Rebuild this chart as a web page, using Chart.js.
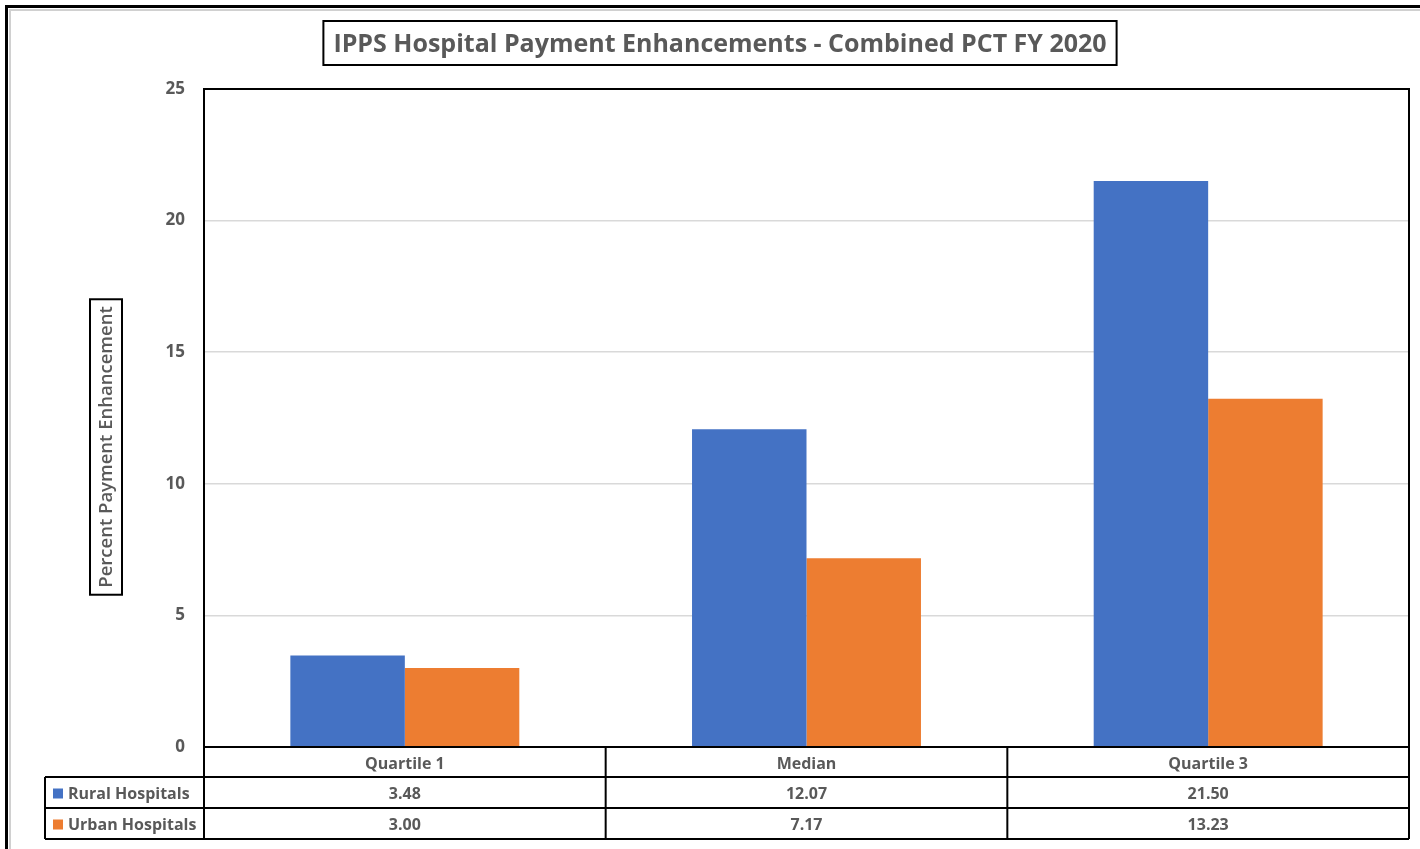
<!DOCTYPE html>
<html>
<head>
<meta charset="utf-8">
<script src="https://cdn.jsdelivr.net/npm/chart.js@4/dist/chart.umd.min.js"></script>
<style>
  html, body { margin: 0; padding: 0; background: #fff; }
  #wrap { width: 1420px; height: 849px; }
</style>
</head>
<body>
<div id="wrap"><canvas id="chart" width="1420" height="849"></canvas></div>
<script>
const categories = ['Quartile 1', 'Median', 'Quartile 3']
const seriesNames = ['Rural Hospitals', 'Urban Hospitals']
const rural = [3.48, 12.07, 21.50]
const urban = [3.00, 7.17, 13.23]
const yTicks = [0, 5, 10, 15, 20, 25]

const TITLE = 'IPPS Hospital Payment Enhancements - Combined PCT FY 2020'
const Y_TITLE = 'Percent Payment Enhancement'
const COLORS = ['#4472C4', '#ED7D31']
const TEXT = '#595959'
const FONT = '"Open Sans", Lato, sans-serif'

// frame, title box, axis-title box and the data table under the plot
const decor = {
  id: 'decor',
  afterDraw(chart) {
    const { ctx, chartArea: a, scales: { x } } = chart
    const rowH = 31
    const r0 = a.bottom, r1 = r0 + 30, r2 = r1 + rowH, r3 = r2 + rowH
    const tableLeft = 45
    ctx.save()

    // outer frame with a light inner edge
    ctx.strokeStyle = '#d0d0d0'; ctx.lineWidth = 2
    ctx.beginPath(); ctx.moveTo(10, 849); ctx.lineTo(10, 10); ctx.lineTo(1420, 10); ctx.stroke()
    ctx.strokeStyle = '#000'; ctx.lineWidth = 3
    ctx.beginPath(); ctx.moveTo(6.5, 849); ctx.lineTo(6.5, 6.5); ctx.lineTo(1420, 6.5); ctx.stroke()

    // title
    ctx.font = 'bold 25px ' + FONT
    ctx.fillStyle = TEXT; ctx.textAlign = 'center'; ctx.textBaseline = 'middle'
    const tw = ctx.measureText(TITLE).width
    const tcx = 720
    ctx.fillText(TITLE, tcx, 45)
    ctx.strokeStyle = '#000'; ctx.lineWidth = 2
    ctx.strokeRect(tcx - tw / 2 - 10, 21, tw + 20, 44)

    // y axis title
    ctx.save()
    ctx.translate(106, 447)
    ctx.rotate(-Math.PI / 2)
    ctx.font = '600 18.5px ' + FONT
    ctx.fillStyle = TEXT
    ctx.fillText(Y_TITLE, 0, 1)
    const yw = ctx.measureText(Y_TITLE).width
    ctx.strokeRect(-yw / 2 - 7, -16, yw + 14, 32)
    ctx.restore()

    // plot border
    ctx.strokeStyle = '#000'; ctx.lineWidth = 2
    ctx.strokeRect(a.left, a.top, a.right - a.left, a.bottom - a.top)

    // table grid
    const half = (x.getPixelForValue(1) - x.getPixelForValue(0)) / 2
    const edges = [a.left].concat(categories.map((c, i) => x.getPixelForValue(i) + half))
    ctx.beginPath()
    for (const yy of [r1, r2, r3]) { ctx.moveTo(tableLeft, yy); ctx.lineTo(a.right, yy) }
    ctx.moveTo(tableLeft, r1); ctx.lineTo(tableLeft, r3)
    for (const ex of edges) { ctx.moveTo(ex, r0); ctx.lineTo(ex, r3) }
    ctx.stroke()

    // table text
    ctx.font = 'bold 16px ' + FONT
    ctx.fillStyle = TEXT; ctx.textAlign = 'center'
    categories.forEach((c, i) => ctx.fillText(c, x.getPixelForValue(i), (r0 + r1) / 2 + 2))
    const rows = [rural, urban]
    rows.forEach((vals, ri) => {
      const cy = (ri === 0 ? (r1 + r2) : (r2 + r3)) / 2 + 2
      vals.forEach((v, i) => ctx.fillText(v.toFixed(2), x.getPixelForValue(i), cy))
      ctx.fillStyle = COLORS[ri]
      ctx.fillRect(53, cy - 6, 10, 10)
      ctx.fillStyle = TEXT
      ctx.textAlign = 'left'
      ctx.fillText(seriesNames[ri], 68, cy)
      ctx.textAlign = 'center'
    })
    ctx.restore()
  }
}

new Chart(document.getElementById('chart'), {
  type: 'bar',
  data: {
    labels: categories,
    datasets: [
      { label: seriesNames[0], data: rural, backgroundColor: COLORS[0] },
      { label: seriesNames[1], data: urban, backgroundColor: COLORS[1] },
    ],
  },
  options: {
    responsive: false,
    animation: false,
    devicePixelRatio: 1,
    layout: { padding: { left: 0, top: 89, right: 11, bottom: 102 } },
    categoryPercentage: 0.57,
    barPercentage: 1.0,
    plugins: { legend: { display: false }, tooltip: { enabled: false }, title: { display: false } },
    scales: {
      x: { display: false },
      y: {
        min: 0, max: 25,
        afterFit(scale) { scale.width = 204 },
        afterBuildTicks(scale) { scale.ticks = yTicks.map(v => ({ value: v })) },
        ticks: { color: TEXT, font: { family: FONT, size: 17, weight: 'bold' }, padding: 19 },
        grid: { color: '#d9d9d9', lineWidth: 1.5, drawTicks: false },
        border: { display: false },
      },
    },
  },
  plugins: [decor],
})
</script>
</body>
</html>
